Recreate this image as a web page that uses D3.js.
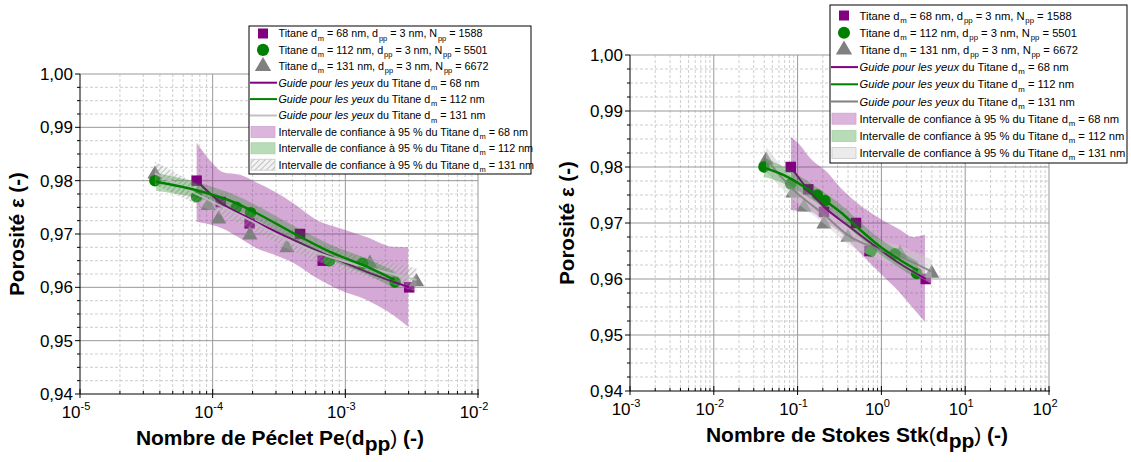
<!DOCTYPE html>
<html><head><meta charset="utf-8">
<script src="https://cdnjs.cloudflare.com/ajax/libs/d3/7.8.5/d3.min.js"></script>
<style>
html,body{margin:0;padding:0;background:#fff;}
svg{display:block;font-family:Arial,"Liberation Sans",sans-serif;}
</style></head>
<body><svg id="chart" width="1131" height="462"></svg>
<script>
// ---------- data ----------
const yTicks = [0.94, 0.95, 0.96, 0.97, 0.98, 0.99, 1.00];
const yTickLabels = ["0,94", "0,95", "0,96", "0,97", "0,98", "0,99", "1,00"];
const peTicks = [1e-5, 1e-4, 1e-3, 1e-2];
const peTickExp = ["-5", "-4", "-3", "-2"];
const stkTicks = [1e-3, 1e-2, 1e-1, 1e0, 1e1, 1e2];
const stkTickExp = ["-3", "-2", "-1", "0", "1", "2"];

// measured points
const porosity68 = [0.980, 0.976, 0.972, 0.970, 0.965, 0.960];
const pe68 = [7.57e-5, 1.15e-4, 1.90e-4, 4.55e-4, 6.75e-4, 3.03e-3];
const stk68 = [0.0828, 0.134, 0.2065, 0.498, 0.721, 3.38];

const porosity112 = [0.980, 0.977, 0.975, 0.974, 0.965, 0.9645, 0.961];
const pe112 = [3.67e-5, 7.57e-5, 1.51e-4, 1.93e-4, 7.59e-4, 1.35e-3, 2.37e-3];
const stk112 = [0.0397, 0.0828, 0.172, 0.212, 0.752, 1.45, 2.64];

const porosity131 = [0.9814, 0.9755, 0.973, 0.970, 0.9676, 0.9647, 0.9612];
const pe131 = [3.67e-5, 9.27e-5, 1.11e-4, 1.91e-4, 3.63e-4, 1.53e-3, 3.44e-3];
const stk131 = [0.0420, 0.0881, 0.119, 0.2065, 0.399, 1.67, 3.98];

// guides for the eyes
const guidePe68 = [7.57e-5, 1.15e-4, 1.90e-4, 3.61e-4, 7.22e-4, 1.45e-3, 3.03e-3];
const guideStk68 = [0.0828, 0.134, 0.2065, 0.40, 0.80, 1.6, 3.38];
const guideY68 = [0.980, 0.9759, 0.9729, 0.9695, 0.9661, 0.9629, 0.960];

const guidePe112 = [3.74e-5, 7.57e-5, 1.50e-4, 1.93e-4, 4.55e-4, 8.07e-4, 1.45e-3, 2.35e-3];
const guideY112Pe = [0.9798, 0.9782, 0.9758, 0.9745, 0.9695, 0.9664, 0.9639, 0.9614];
const guideStk112 = [0.0397, 0.0675, 0.169, 0.321, 0.556, 0.961, 1.67, 2.73];
const guideY112Stk = [0.9799, 0.9786, 0.9750, 0.9720, 0.9688, 0.9658, 0.9634, 0.9615];

const guidePe131 = [3.67e-5, 9.27e-5, 1.91e-4, 3.63e-4, 7.66e-4, 1.53e-3, 3.44e-3];
const guideY131Pe = [0.9814, 0.9764, 0.9726, 0.9689, 0.9657, 0.9636, 0.9614];
const guideStk131 = [0.042, 0.0881, 0.2065, 0.40, 0.85, 1.67, 3.98];
const guideY131Stk = [0.9814, 0.9760, 0.9715, 0.9678, 0.9655, 0.9640, 0.9613];

// 95 % confidence bands
const bandPe68 = [7.57e-5, 9.55e-5, 1.197e-4, 1.61e-4, 2.16e-4, 2.85e-4, 4.03e-4, 6.11e-4, 9.1e-4, 1.46e-3, 2.29e-3, 2.98e-3];
const bandPe68Hi = [0.9871, 0.9838, 0.9816, 0.9811, 0.9796, 0.9781, 0.9758, 0.9726, 0.9711, 0.9694, 0.9676, 0.9675];
const bandPe68Lo = [0.9723, 0.9718, 0.9710, 0.9692, 0.9673, 0.9662, 0.9646, 0.9617, 0.9595, 0.9576, 0.9548, 0.9526];
const bandStk68 = [0.0834, 0.107, 0.141, 0.224, 0.321, 0.512, 0.885, 1.67, 2.38, 3.31];
const bandStk68Hi = [0.9854, 0.9839, 0.9816, 0.9791, 0.9764, 0.9736, 0.9711, 0.9688, 0.9675, 0.9679];
const bandStk68Lo = [0.9723, 0.9721, 0.9720, 0.9699, 0.9684, 0.9652, 0.9616, 0.9575, 0.9548, 0.9523];

const bandPe112Hi = [0.9815, 0.9797, 0.9772, 0.9759, 0.9709, 0.9678, 0.9654, 0.9630];
const bandPe112Lo = [0.9781, 0.9768, 0.9745, 0.9732, 0.9682, 0.9650, 0.9624, 0.9598];
const bandStk112Hi = [0.9816, 0.9801, 0.9764, 0.9734, 0.9702, 0.9672, 0.9649, 0.9631];
const bandStk112Lo = [0.9782, 0.9771, 0.9736, 0.9706, 0.9674, 0.9644, 0.9619, 0.9599];

const bandPe131Hi = [0.9836, 0.9782, 0.9742, 0.9705, 0.9674, 0.9655, 0.9636];
const bandPe131Lo = [0.9792, 0.9746, 0.9710, 0.9673, 0.9640, 0.9617, 0.9592];
const bandStk131Hi = [0.9836, 0.9778, 0.9731, 0.9694, 0.9672, 0.9659, 0.9635];
const bandStk131Lo = [0.9792, 0.9742, 0.9699, 0.9662, 0.9638, 0.9621, 0.9591];

const legendSizes = ["68", "112", "131"];
const legendNpp = ["1588", "5501", "6672"];

// ---------- drawing ----------
const svg = d3.select("#chart");
const defs = svg.append("defs");
const pat = defs.append("pattern").attr("id", "hatch").attr("patternUnits", "userSpaceOnUse")
  .attr("width", 4).attr("height", 4).attr("patternTransform", "rotate(45)");
pat.append("rect").attr("width", 4).attr("height", 4).attr("fill", "rgba(200,200,200,0.22)");
pat.append("line").attr("x1", 0).attr("y1", 0).attr("x2", 0).attr("y2", 4)
  .attr("stroke", "rgba(140,140,140,0.75)").attr("stroke-width", 1.3);

const C68 = "#800080", C112 = "#008000", C131 = "#808080";
const zip = (xs, ys) => xs.map((v, i) => ({x: v, y: ys[i]}));
const zipBand = (xs, lo, hi) => xs.map((v, i) => ({x: v, lo: lo[i], hi: hi[i]}));

function rich(textSel, parts, baseSize) {
  parts.forEach(p => {
    const ts = textSel.append("tspan").text(p.t);
    if (p.italic) ts.attr("font-style", "italic");
    if (p.weight) ts.attr("font-weight", p.weight);
    if (p.sub) ts.attr("font-size", p.size || baseSize * 0.62).attr("dy", p.dy || baseSize * 0.3).attr("dx", p.dx || 0);
    if (p.sup) ts.attr("font-size", p.size || baseSize * 0.62).attr("dy", -baseSize * 0.45);
    if (p.back) ts.attr("dy", p.back);
  });
}

function panel(cfg) {
  const g = svg.append("g");
  const x = d3.scaleLog().domain(cfg.xDomain).range([cfg.x0, cfg.x1]);
  const y = d3.scaleLinear().domain([0.94, 1.00]).range([cfg.y1, cfg.y0]);

  // grid
  const minorY = d3.range(0, 25).map(i => 0.94 + i * 0.0025).filter((v, i) => i % 4 !== 0);
  const decades = cfg.ticks;
  const minorX = [];
  decades.slice(0, -1).forEach(d => { for (let k = 2; k <= 9; k++) minorX.push(d * k); });
  const grid = g.append("g");
  grid.selectAll(".my").data(minorY).join("line")
    .attr("x1", cfg.x0).attr("x2", cfg.x1).attr("y1", d => y(d)).attr("y2", d => y(d))
    .attr("stroke", "#c8c8c8").attr("stroke-dasharray", "3,2").attr("stroke-width", 0.9);
  grid.selectAll(".mx").data(minorX).join("line")
    .attr("x1", d => x(d)).attr("x2", d => x(d)).attr("y1", cfg.y0).attr("y2", cfg.y1)
    .attr("stroke", "#c8c8c8").attr("stroke-dasharray", "3,2").attr("stroke-width", 0.9);
  grid.selectAll(".My").data(yTicks.slice(1)).join("line")
    .attr("x1", cfg.x0).attr("x2", cfg.x1).attr("y1", d => y(d)).attr("y2", d => y(d))
    .attr("stroke", "#999").attr("stroke-width", 1);
  grid.selectAll(".Mx").data(decades.slice(1)).join("line")
    .attr("x1", d => x(d)).attr("x2", d => x(d)).attr("y1", cfg.y0).attr("y2", cfg.y1)
    .attr("stroke", "#999").attr("stroke-width", 1);

  const area = d3.area().x(d => x(d.x)).y0(d => y(d.lo)).y1(d => y(d.hi)).curve(d3.curveMonotoneX);
  const line = d3.line().x(d => x(d.x)).y(d => y(d.y)).curve(d3.curveMonotoneX);

  // purple band
  g.append("path").datum(zipBand(cfg.band68, cfg.band68Lo, cfg.band68Hi))
    .attr("d", area).attr("fill", "rgba(150,40,150,0.40)");

  // markers
  const sym = (type, size) => d3.symbol().type(type).size(size)();
  g.selectAll(".sq").data(zip(cfg.p68, porosity68)).join("path")
    .attr("transform", d => `translate(${x(d.x)},${y(d.y)})`).attr("d", sym(d3.symbolSquare, 110)).attr("fill", C68);
  g.selectAll(".tr").data(zip(cfg.p131, porosity131)).join("path")
    .attr("transform", d => `translate(${x(d.x)},${y(d.y) + 1})`).attr("d", sym(d3.symbolTriangle, 100)).attr("fill", C131);
  g.selectAll(".ci").data(zip(cfg.p112, porosity112)).join("path")
    .attr("transform", d => `translate(${x(d.x)},${y(d.y)})`).attr("d", sym(d3.symbolCircle, 105)).attr("fill", C112);

  // gray band
  g.append("path").datum(zipBand(cfg.guide131, cfg.band131Lo, cfg.band131Hi))
    .attr("d", area).attr("fill", cfg.hatch ? "url(#hatch)" : "rgba(205,205,205,0.45)");
  // purple guide
  g.append("path").datum(zip(cfg.guide68, guideY68)).attr("d", line)
    .attr("fill", "none").attr("stroke", C68).attr("stroke-width", 2);
  // green band
  g.append("path").datum(zipBand(cfg.guide112, cfg.band112Lo, cfg.band112Hi))
    .attr("d", area).attr("fill", "rgba(20,130,20,0.30)");
  // gray guide
  g.append("path").datum(zip(cfg.guide131, cfg.guide131Y)).attr("d", line)
    .attr("fill", "none").attr("stroke", cfg.hatch ? "rgba(190,190,190,0.9)" : "rgba(128,128,128,0.85)").attr("stroke-width", 2);
  // green guide
  g.append("path").datum(zip(cfg.guide112, cfg.guide112Y)).attr("d", line)
    .attr("fill", "none").attr("stroke", C112).attr("stroke-width", 2.4);

  // axes
  const ax = g.append("g");
  ax.append("line").attr("x1", cfg.x0).attr("x2", cfg.x0).attr("y1", cfg.y0).attr("y2", cfg.y1).attr("stroke", "#000");
  ax.append("line").attr("x1", cfg.x0).attr("x2", cfg.x1 + 1).attr("y1", cfg.y1).attr("y2", cfg.y1).attr("stroke", "#000");
  ax.selectAll(".yt").data(yTicks).join("line")
    .attr("x1", cfg.x0 - 5).attr("x2", cfg.x0).attr("y1", d => y(d)).attr("y2", d => y(d)).attr("stroke", "#000");
  ax.selectAll(".ymt").data(minorY).join("line")
    .attr("x1", cfg.x0 - 3).attr("x2", cfg.x0).attr("y1", d => y(d)).attr("y2", d => y(d)).attr("stroke", "#000");
  ax.selectAll(".xt").data(decades).join("line")
    .attr("x1", d => x(d)).attr("x2", d => x(d)).attr("y1", cfg.y1 - 5).attr("y2", cfg.y1 + 4).attr("stroke", "#000");
  ax.selectAll(".xmt").data(minorX).join("line")
    .attr("x1", d => x(d)).attr("x2", d => x(d)).attr("y1", cfg.y1 - 3).attr("y2", cfg.y1).attr("stroke", "#000");

  ax.selectAll(".yl").data(yTicks).join("text")
    .attr("x", cfg.x0 - 7).attr("y", d => y(d) + 6).attr("text-anchor", "end")
    .attr("font-size", 17).attr("fill", "#000").text((d, i) => yTickLabels[i]);
  decades.forEach((d, i) => {
    const t = ax.append("text").attr("x", x(d) - 4).attr("y", cfg.y1 + 24)
      .attr("text-anchor", "middle").attr("font-size", 17).attr("fill", "#000");
    rich(t, [{t: "10"}, {t: cfg.exp[i], sup: true, size: 11}], 17);
  });

  // axis titles
  const yt = g.append("text").attr("transform", `translate(${cfg.yTitleX},${(cfg.y0 + cfg.y1) / 2}) rotate(-90)`)
    .attr("text-anchor", "middle").attr("font-size", 20.5).attr("font-weight", "bold").attr("fill", "#000");
  yt.text("Porosité ε (-)");
  const xfs = 21;
  const xt = g.append("text").attr("x", cfg.xTitleX).attr("y", cfg.y1 + 51)
    .attr("text-anchor", "middle").attr("font-size", xfs).attr("font-weight", "bold").attr("fill", "#000");
  rich(xt, [{t: cfg.xTitle}, {t: "(", weight: "normal"}, {t: "d"}, {t: "pp", sub: true, size: xfs, dy: 6},
            {t: ")", weight: "normal", back: -6}, {t: " (-)"}], xfs);

  // legend
  const L = cfg.legend;
  const lg = g.append("g");
  lg.append("rect").attr("x", L.x).attr("y", L.y).attr("width", L.w).attr("height", L.h)
    .attr("fill", "#fff").attr("stroke", "#000").attr("stroke-width", 1);
  const fs = L.fs, ss = L.ss;
  const rowY = i => L.y + L.first + i * L.step;
  const symX = L.x + 14, lineX0 = L.x + 1, lineX1 = L.x + 28, textX = L.x + 29.5;
  const markerTypes = [d3.symbolSquare, d3.symbolCircle, d3.symbolTriangle];
  const markerCols = [C68, C112, C131];
  const sub = t => ({t: t, sub: true, size: ss, dx: 0.8});
  const after = t => ({t: t, back: -fs * 0.3});
  legendSizes.forEach((s, i) => {
    lg.append("path").attr("transform", `translate(${symX},${rowY(i)})`)
      .attr("d", sym(markerTypes[i], i === 0 ? 100 : 115)).attr("fill", markerCols[i]);
    const t = lg.append("text").attr("x", textX).attr("y", rowY(i) + fs * 0.36).attr("font-size", fs).attr("fill", "#000");
    rich(t, [{t: "Titane d"}, sub("m"), after(` = ${s} nm, d`), sub("pp"),
             after(" = 3 nm, N"), sub("pp"), after(` = ${legendNpp[i]}`)], fs);
  });
  const lineCols = [C68, C112, cfg.hatch ? "#c0c0c0" : "#808080"];
  legendSizes.forEach((s, i) => {
    const yy = rowY(i + 3);
    lg.append("line").attr("x1", lineX0).attr("x2", lineX1).attr("y1", yy).attr("y2", yy)
      .attr("stroke", lineCols[i]).attr("stroke-width", 2);
    const t = lg.append("text").attr("x", textX).attr("y", yy + fs * 0.36).attr("font-size", fs).attr("fill", "#000");
    rich(t, [{t: "Guide pour les yeux", italic: true}, {t: " du Titane d"}, sub("m"), after(` = ${s} nm`)], fs);
  });
  const swFill = ["#dbb5db", "#b8dcb8", cfg.hatch ? "url(#hatch)" : "#ebebeb"];
  const swStroke = ["#cfa6cf", "#a8cfa8", "#c8c8c8"];
  legendSizes.forEach((s, i) => {
    const yy = rowY(i + 6);
    lg.append("rect").attr("x", L.x + 2).attr("y", yy - 5.5).attr("width", 24).attr("height", 11)
      .attr("fill", swFill[i]).attr("stroke", swStroke[i]).attr("stroke-width", 0.8);
    const t = lg.append("text").attr("x", textX).attr("y", yy + fs * 0.36).attr("font-size", fs).attr("fill", "#000");
    rich(t, [{t: "Intervalle de confiance à 95 % du Titane d"}, sub("m"), after(` = ${s} nm`)], fs);
  });
}

panel({
  x0: 80, x1: 478, y0: 74, y1: 394, xDomain: [1e-5, 1e-2], ticks: peTicks, exp: peTickExp,
  p68: pe68, p112: pe112, p131: pe131,
  guide68: guidePe68, guide112: guidePe112, guide112Y: guideY112Pe, guide131: guidePe131, guide131Y: guideY131Pe,
  band68: bandPe68, band68Lo: bandPe68Lo, band68Hi: bandPe68Hi,
  band112Lo: bandPe112Lo, band112Hi: bandPe112Hi, band131Lo: bandPe131Lo, band131Hi: bandPe131Hi,
  hatch: true, yTitleX: 24, xTitle: "Nombre de Péclet Pe", xTitleX: 280,
  legend: {x: 249, y: 26, w: 282, h: 148, first: 7.5, step: 16.4, fs: 10.75, ss: 7.5}
});
panel({
  x0: 630, x1: 1049, y0: 55, y1: 391, xDomain: [1e-3, 1e2], ticks: stkTicks, exp: stkTickExp,
  p68: stk68, p112: stk112, p131: stk131,
  guide68: guideStk68, guide112: guideStk112, guide112Y: guideY112Stk, guide131: guideStk131, guide131Y: guideY131Stk,
  band68: bandStk68, band68Lo: bandStk68Lo, band68Hi: bandStk68Hi,
  band112Lo: bandStk112Lo, band112Hi: bandStk112Hi, band131Lo: bandStk131Lo, band131Hi: bandStk131Hi,
  hatch: false, yTitleX: 574, xTitle: "Nombre de Stokes Stk", xTitleX: 857,
  legend: {x: 830, y: 5, w: 297, h: 158, first: 10.5, step: 17.2, fs: 11.2, ss: 7.8}
});
</script>
</body></html>
